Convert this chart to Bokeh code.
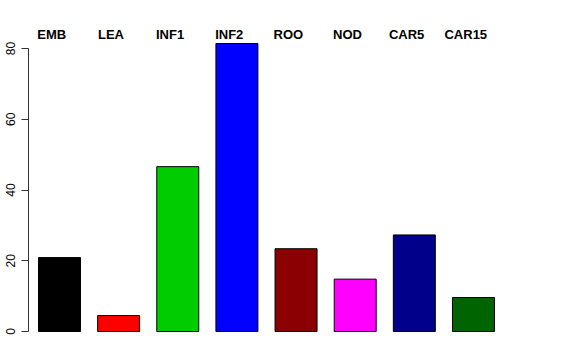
from bokeh.plotting import figure
from bokeh.models import Range1d, ColumnDataSource, FixedTicker
from bokeh.core.properties import value
from bokeh.embed import file_html
from bokeh.resources import INLINE

categories = ["EMB", "LEA", "INF1", "INF2", "ROO", "NOD", "CAR5", "CAR15"]
values = [20.9, 4.5, 46.6, 81.4, 23.4, 14.8, 27.3, 9.6]
colors = ["#000000", "#FF0000", "#00CD00", "#0000FF", "#8B0000", "#FF00FF", "#00008B", "#006400"]
y_ticks = [0, 20, 40, 60, 80]

xs = list(range(len(categories)))
src = ColumnDataSource(dict(x=xs, top=values, color=colors,
                            lx=[x - 0.13 for x in xs], ly=[84.0] * len(xs), label=categories))

p = figure(width=576, height=360, output_backend="svg", toolbar_location=None,
           x_range=Range1d(-0.524, 8.573), y_range=Range1d(-3.39, 90.74),
           min_border_left=28, min_border_right=10, min_border_top=10, min_border_bottom=17)
p.xaxis.visible = False
p.xgrid.visible = False
p.ygrid.visible = False
p.outline_line_color = None
p.background_fill_color = "white"
p.border_fill_color = "white"

p.vbar(x="x", top="top", bottom=0, width=0.71, fill_color="color", line_color="black",
       line_width=1, source=src)

p.text(x="lx", y="ly", text="label", source=src, text_align="center", text_baseline="alphabetic",
       text_font=value("Liberation Sans"), text_font_style="bold", text_font_size="13px",
       text_color="black")

ya = p.yaxis[0]
ya.ticker = FixedTicker(ticks=y_ticks)
ya.bounds = (0, 80)
ya.minor_tick_line_color = None
ya.major_tick_out = 7
ya.major_tick_in = 0
ya.major_label_orientation = "vertical"
ya.major_label_standoff = 6
ya.major_label_text_font = "Liberation Sans"
ya.major_label_text_font_size = "12px"
ya.major_label_text_color = "black"
ya.axis_line_color = "#333333"
ya.major_tick_line_color = "#333333"

open("out.html", "w").write(file_html(p, INLINE))
